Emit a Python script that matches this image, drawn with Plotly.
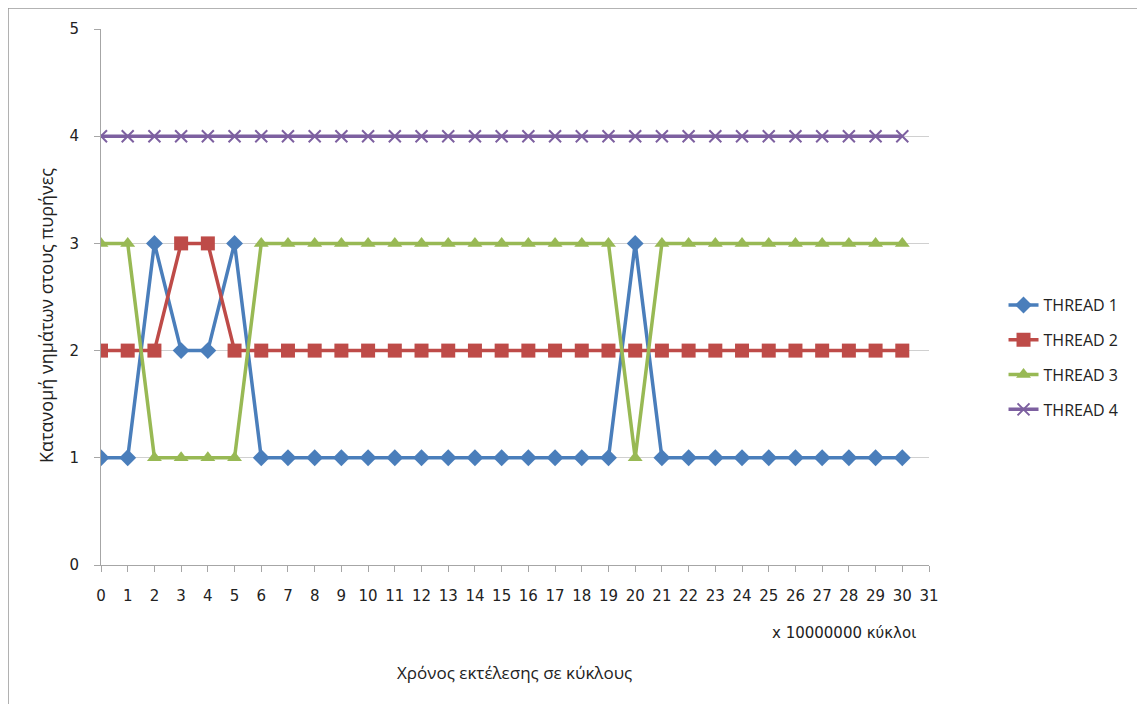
import plotly.graph_objects as go

x_vals = list(range(31))
thread1 = [1, 1, 3, 2, 2, 3, 1, 1, 1, 1, 1, 1, 1, 1, 1, 1, 1, 1, 1, 1, 3, 1, 1, 1, 1, 1, 1, 1, 1, 1, 1]
thread2 = [2, 2, 2, 3, 3, 2, 2, 2, 2, 2, 2, 2, 2, 2, 2, 2, 2, 2, 2, 2, 2, 2, 2, 2, 2, 2, 2, 2, 2, 2, 2]
thread3 = [3, 3, 1, 1, 1, 1, 3, 3, 3, 3, 3, 3, 3, 3, 3, 3, 3, 3, 3, 3, 1, 3, 3, 3, 3, 3, 3, 3, 3, 3, 3]
thread4 = [4] * 31
names = ["THREAD 1", "THREAD 2", "THREAD 3", "THREAD 4"]
x_ticks = list(range(32))
y_ticks = [0, 1, 2, 3, 4, 5]

colors = ["#4A7EBB", "#BE4B48", "#98B954", "#7D60A0"]
symbols = ["diamond", "square", "triangle-up", "x-thin"]
sizes = [13, 14, 13, 12]

fig = go.Figure()
for i, ys in enumerate([thread1, thread2, thread3, thread4]):
    fig.add_trace(go.Scatter(
        x=x_vals, y=ys, name=names[i], mode="lines+markers",
        legendgroup=names[i],
        line=dict(color=colors[i], width=3.5),
        marker=dict(symbol=symbols[i], size=sizes[i], color=colors[i],
                    line=dict(color=colors[i], width=2 if i == 3 else 0)),
    ))

font_ticks = dict(family="DejaVu Sans", size=15, color="#222222")

# plot area in screen px: x 100..928, y 27..565 (page body adds an 8px offset)
OFF_X, OFF_Y = 7, 8

fig.update_layout(
    width=1145, height=704,
    margin=dict(l=100 - OFF_X, r=217 + OFF_X, t=27 - OFF_Y, b=139 + OFF_Y),
    paper_bgcolor="white", plot_bgcolor="white",
    showlegend=True,
    legend=dict(x=1.09, xanchor="left", y=0.387, yanchor="middle",
                font=dict(family="Open Sans", size=16, color="#222222"),
                tracegroupgap=11, bgcolor="rgba(0,0,0,0)"),
    xaxis=dict(range=[0, 31], tickvals=x_ticks, ticktext=[str(v) for v in x_ticks],
               showgrid=False, zeroline=False, showline=True, linecolor="#A6A6A6",
               linewidth=1, ticks="outside", ticklen=6, tickcolor="#A6A6A6",
               tickfont=font_ticks, ticklabelstandoff=11),
    yaxis=dict(range=[0, 5], tickvals=y_ticks, showgrid=True, gridcolor="#D0D0D0",
               gridwidth=1, zeroline=False, showline=True, linecolor="#A6A6A6",
               linewidth=1, ticks="outside", ticklen=6, tickcolor="#A6A6A6",
               tickfont=font_ticks, ticklabelstandoff=12),
    shapes=[dict(type="rect", xref="paper", yref="paper",
                 x0=-0.1123, x1=1.3, y0=-0.3, y1=1.039,
                 line=dict(color="#9A9A9A", width=1.5), fillcolor="rgba(0,0,0,0)",
                 layer="below")],
    annotations=[
        dict(text="Κατανομή νημάτων στους πυρήνες", xref="paper", yref="paper",
             x=(45 - 100) / 828, y=(565 - 315) / 538, textangle=-90, showarrow=False,
             xanchor="center", yanchor="middle",
             font=dict(family="Open Sans", size=18, color="#222222")),
        dict(text="Χρόνος εκτέλεσης σε κύκλους", xref="paper", yref="paper",
             x=(513 - 100) / 828, y=(565 - 673) / 538, showarrow=False,
             xanchor="center", yanchor="middle",
             font=dict(family="Open Sans", size=17, color="#222222")),
        dict(text="x 10000000 κύκλοι", xref="paper", yref="paper",
             x=(843 - 100) / 828, y=(565 - 633) / 538, showarrow=False,
             xanchor="center", yanchor="middle",
             font=dict(family="DejaVu Sans", size=15, color="#222222")),
    ],
)

fig.write_html("out.html")
